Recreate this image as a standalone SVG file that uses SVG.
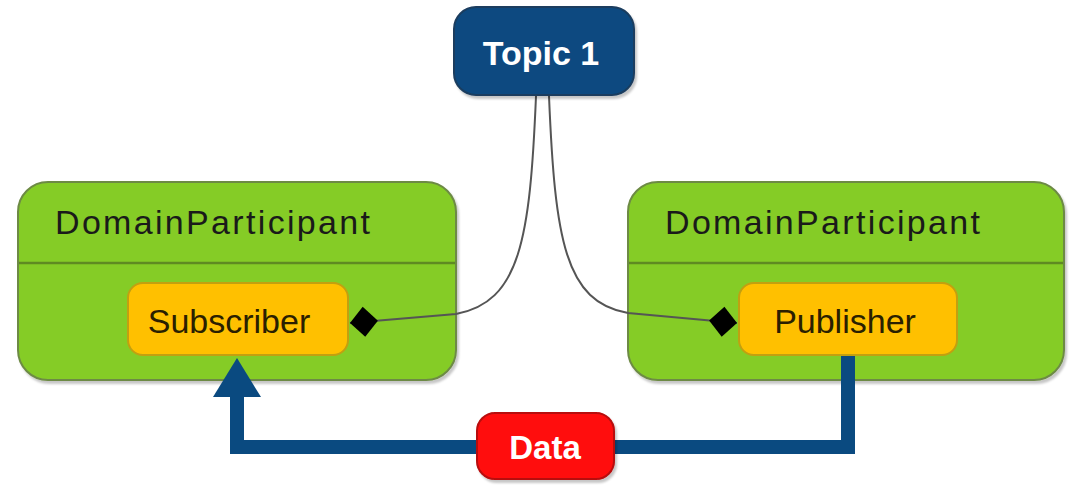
<svg xmlns="http://www.w3.org/2000/svg" width="1071" height="485" viewBox="0 0 1071 485">
<style>
.part{fill:#85cc28;stroke:#6d8a45;stroke-width:2}
.div{stroke:#5f8a22;stroke-width:2.5}
.role{fill:#ffc000;stroke:#c2a010;stroke-width:2}
.ptxt{font-family:"Liberation Sans",Arial,sans-serif;font-size:34px;fill:#1a1a1a}
.rtxt{font-family:"Liberation Sans",Arial,sans-serif;font-size:34px;fill:#2a2000;text-anchor:middle}
.wtxt{font-family:"Liberation Sans",Arial,sans-serif;font-size:34px;font-weight:bold;fill:#fff;text-anchor:middle}
.link{fill:none;stroke:#555;stroke-width:2}
.data{fill:none;stroke:#0a4a80;stroke-width:14}
</style>
<defs>
<filter id="sh" x="-10%" y="-10%" width="130%" height="140%">
<feDropShadow dx="2" dy="3" stdDeviation="1.2" flood-color="#000" flood-opacity="0.22"/>
</filter>
<marker id="dia" markerUnits="userSpaceOnUse" markerWidth="32" markerHeight="32" viewBox="0 0 32 32" refX="1" refY="16" orient="auto">
<path d="M1,16 L15,1 L29,16 L15,31 Z" fill="#000"/>
</marker>
<marker id="arr" markerUnits="userSpaceOnUse" markerWidth="40" markerHeight="48" viewBox="0 0 40 48" refX="0" refY="24" orient="auto">
<path d="M0,0 L39,24 L0,48 Z" fill="#0a4a80"/>
</marker>
</defs>
<g id="participant-left">
<rect class="part" x="18" y="182" width="438" height="198" rx="30" filter="url(#sh)"/>
<line class="div" x1="19" y1="263" x2="455" y2="263"/>
<text class="ptxt" x="55" y="234" textLength="315" lengthAdjust="spacing">DomainParticipant</text>
</g>
<g id="participant-right">
<rect class="part" x="628" y="182" width="436" height="198" rx="30" filter="url(#sh)"/>
<line class="div" x1="629" y1="263" x2="1063" y2="263"/>
<text class="ptxt" x="665" y="234" textLength="315" lengthAdjust="spacing">DomainParticipant</text>
</g>
<g id="connectors">
<path class="link" d="M350,323 L456,314 C520,302 530,240 536,96" marker-start="url(#dia)"/>
<path class="link" d="M737,323 L628,313 C565,302 555,240 549,96" marker-start="url(#dia)"/>
<path class="data" d="M848,356 L848,447 L237,447 L237,397" marker-end="url(#arr)"/>
</g>
<g id="subscriber">
<rect class="role" x="128" y="283" width="220" height="72" rx="15"/>
<text class="rtxt" x="229" y="333">Subscriber</text>
</g>
<g id="publisher">
<rect class="role" x="739" y="283" width="218" height="72" rx="15"/>
<text class="rtxt" x="845" y="333">Publisher</text>
</g>
<g id="topic1">
<rect x="454" y="7" width="180" height="88" rx="22" fill="#0a4a80" stroke="#1b3d5f" stroke-width="2" filter="url(#sh)"/>
<text class="wtxt" x="541" y="65">Topic 1</text>
</g>
<g id="data">
<rect x="477" y="413" width="137" height="66" rx="18" fill="#ff1010" stroke="#b80808" stroke-width="2" filter="url(#sh)"/>
<text class="wtxt" x="545" y="459" style="font-size:33px">Data</text>
</g>
</svg>
